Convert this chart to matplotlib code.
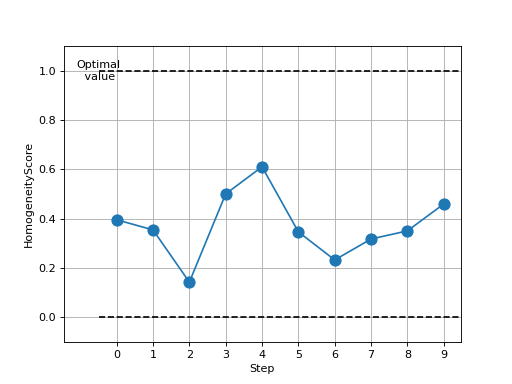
import matplotlib
matplotlib.use('Agg')
import matplotlib.pyplot as plt

# homogeneity score per step
steps=[0,1,2,3,4,5,6,7,8,9]
scores=[0.395,0.354,0.142,0.5,0.61,0.346,0.232,0.317,0.35,0.459]
optimal=1.0
baseline=0.0

fig,ax=plt.subplots(figsize=(6.4,4.8),dpi=80)
ax.plot(steps,scores,marker='o',markersize=10,color='tab:blue')
ax.hlines([optimal,baseline],-0.5,10,colors='black',linestyles='--')
ax.text(-0.5,optimal,'Optimal\n value',ha='center',va='center')

ax.set_xlim(-1.45,9.47)
ax.set_ylim(-0.1,1.1)
ax.set_xticks(steps)
ax.set_xlabel('Step')
ax.set_ylabel('HomogeneityScore')
ax.grid(True)
plt.savefig('out.png',dpi=80)
